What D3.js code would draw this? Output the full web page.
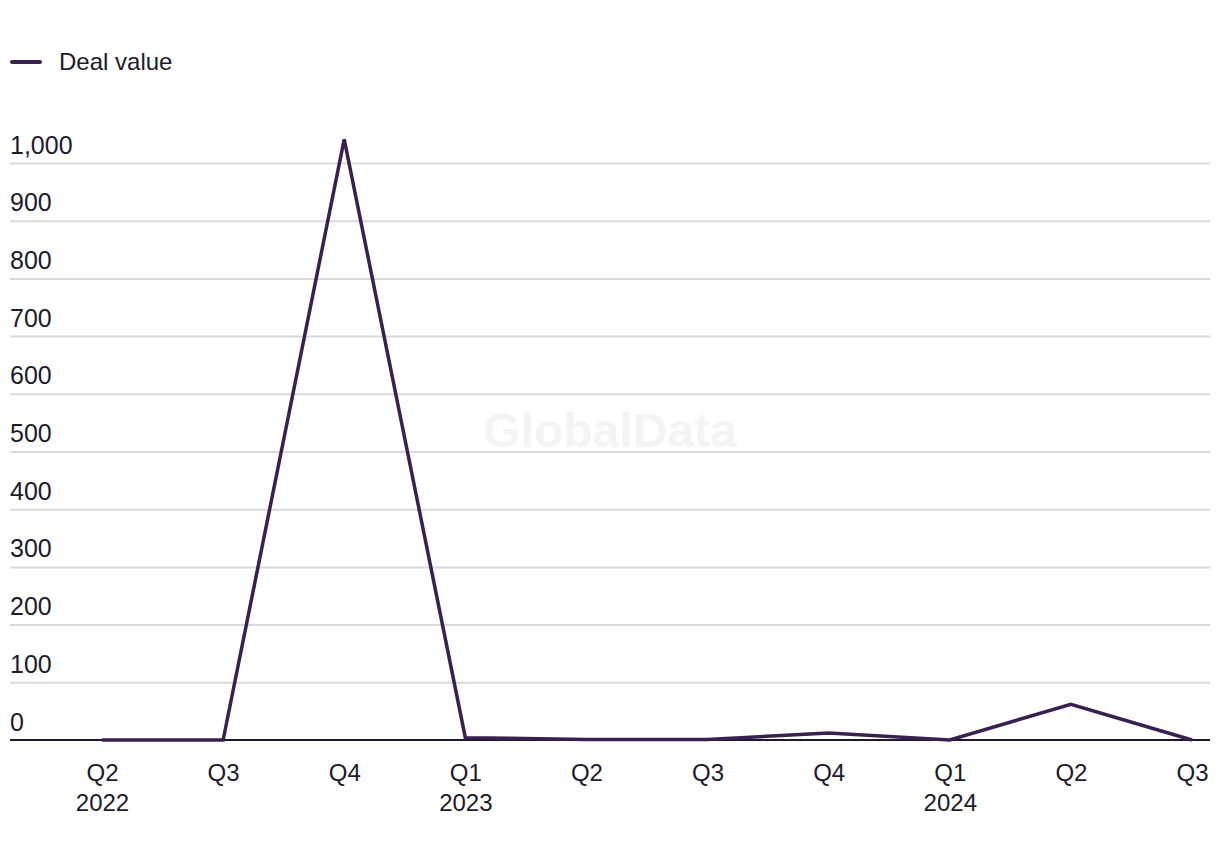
<!DOCTYPE html>
<html><head><meta charset="utf-8">
<script src="https://cdn.jsdelivr.net/npm/d3@7"></script>
<style>
html,body{margin:0;padding:0;background:#fff;}
svg{display:block;font-family:"Liberation Sans",Arial,sans-serif;}
</style></head>
<body><svg id="chart" width="1220" height="860"></svg>
<script>
const quarters = ["Q2","Q3","Q4","Q1","Q2","Q3","Q4","Q1","Q2","Q3"];
const years = ["2022","","","2023","","","","2024","",""];
const dealValue = [0, 0, 1041, 4, 1, 1, 12, 0, 62, 0];
const yTicks = [0,100,200,300,400,500,600,700,800,900,1000];
const seriesName = "Deal value";

const svg = d3.select("#chart");
const textColor = "#1c1a2b", lineColor = "#38214f";
const idx = d3.range(quarters.length);
const x = d3.scalePoint().domain(idx).range([102, 1192]);
const y = d3.scaleLinear().domain([0, 1000]).range([740, 163]);

// watermark
svg.append("text").attr("x", 610).attr("y", 447).attr("text-anchor","middle")
  .attr("font-size", 48).attr("font-weight","bold").attr("fill","#f4f4f4").text("GlobalData");

// grid
const yAxis = d3.axisLeft(y).tickValues(yTicks).tickSize(0).tickFormat(d3.format(","));
const gy = svg.append("g").call(yAxis);
gy.select(".domain").remove();
gy.selectAll(".tick line").remove();
gy.selectAll(".tick").each(function(d){
  const t = d3.select(this);
  if (d !== 0) t.append("line").attr("x1",10).attr("x2",1210).attr("y1",0).attr("y2",0)
    .attr("stroke","#d9d9d9").attr("stroke-width",2);
  t.select("text").attr("x",10).attr("dy",-10).attr("text-anchor","start")
    .attr("font-size",25).attr("fill",textColor).attr("font-family",null);
});

// x axis
const xAxis = d3.axisBottom(x).tickSize(0).tickFormat(i => quarters[i]);
const gx = svg.append("g").attr("transform","translate(0,740)").call(xAxis);
gx.select(".domain").remove();
gx.append("line").attr("x1",10).attr("x2",1210).attr("stroke",textColor).attr("stroke-width",2);
gx.selectAll(".tick text").attr("font-size",24).attr("fill",textColor).attr("font-family",null)
  .attr("y",24).attr("dy","0.71em")
  .each(function(i){
    if (years[i]) d3.select(this.parentNode).append("text").attr("text-anchor","middle")
      .attr("y",54).attr("dy","0.71em").attr("font-size",24).attr("fill",textColor).text(years[i]);
  });

// line
const line = d3.line().x((d,i)=>x(i)).y(d=>y(d));
svg.append("path").datum(dealValue).attr("d", line).attr("fill","none")
  .attr("stroke", lineColor).attr("stroke-width",3.5).attr("stroke-linejoin","miter");

// legend
const lg = svg.append("g").attr("transform","translate(10,62)");
lg.append("line").attr("x1",2).attr("x2",30).attr("stroke",lineColor).attr("stroke-width",4).attr("stroke-linecap","round");
lg.append("text").attr("x",49).attr("dy","0.35em").attr("font-size",24).attr("fill",textColor).text(seriesName);
</script></body></html>
